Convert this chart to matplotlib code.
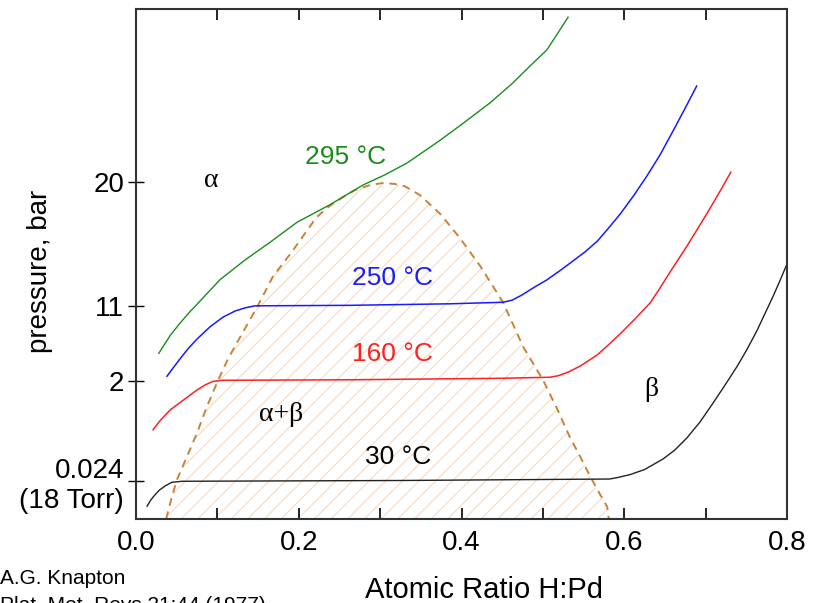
import matplotlib
matplotlib.use("Agg")
import matplotlib.pyplot as plt

plt.rcParams['font.family'] = ['Liberation Sans', 'DejaVu Sans']
plt.rcParams['hatch.linewidth'] = 0.8

# x: atomic ratio H:Pd, y: schematic pressure height (0..100, axis not to scale)
x295 = [0.028, 0.042, 0.054, 0.066, 0.079, 0.103, 0.134, 0.165, 0.198, 0.238,
        0.279, 0.306, 0.333, 0.374, 0.402, 0.435, 0.463, 0.484, 0.505, 0.531]
y295 = [32.5, 36.0, 38.4, 40.6, 42.8, 46.9, 50.8, 54.3, 58.2, 61.6,
        65.5, 67.5, 69.8, 74.3, 77.6, 81.6, 85.5, 88.8, 92.0, 98.4]

x250 = [0.038, 0.045, 0.054, 0.064, 0.075, 0.091, 0.107, 0.122, 0.134, 0.146,
        0.263, 0.386, 0.451, 0.462, 0.474, 0.490, 0.505, 0.521, 0.537, 0.552,
        0.567, 0.581, 0.595, 0.612, 0.628, 0.644, 0.660, 0.675, 0.689]
y250 = [28.0, 29.5, 31.4, 33.4, 35.3, 37.7, 39.6, 40.8, 41.4, 41.8,
        41.9, 42.2, 42.5, 42.9, 43.9, 45.5, 46.9, 48.7, 50.6, 52.4,
        54.5, 57.1, 59.8, 63.5, 67.3, 71.4, 76.1, 80.6, 84.9]

x160 = [0.021, 0.029, 0.042, 0.058, 0.075, 0.085, 0.095, 0.106, 0.263, 0.451,
        0.509, 0.519, 0.531, 0.546, 0.567, 0.583, 0.595, 0.613, 0.632, 0.644,
        0.653, 0.666, 0.677, 0.689, 0.702, 0.716, 0.731]
y160 = [17.5, 19.2, 21.4, 23.3, 25.3, 26.3, 27.0, 27.2, 27.3, 27.6,
        27.8, 28.1, 28.8, 30.0, 32.2, 34.5, 36.3, 39.2, 42.4, 45.3,
        47.6, 50.8, 53.5, 56.6, 60.0, 63.8, 68.0]

x30 = [0.0135, 0.018, 0.023, 0.029, 0.036, 0.044, 0.057, 0.324, 0.582, 0.592,
       0.607, 0.625, 0.648, 0.662, 0.677, 0.693, 0.709, 0.724, 0.739, 0.751,
       0.763, 0.773, 0.783, 0.791, 0.800]
y30 = [2.5, 3.7, 4.7, 5.7, 6.5, 7.2, 7.4, 7.55, 7.84, 8.14,
       8.7, 9.7, 11.8, 13.5, 15.9, 19.0, 22.7, 26.3, 30.0, 33.3,
       36.9, 40.3, 43.7, 46.6, 50.0]

# alpha+beta two-phase boundary
xdome = [0.037, 0.043, 0.050, 0.063, 0.075, 0.087, 0.100, 0.113, 0.128, 0.149,
         0.168, 0.193, 0.208, 0.222, 0.238, 0.254, 0.269, 0.288, 0.304, 0.318,
         0.331, 0.349, 0.374, 0.398, 0.423, 0.451, 0.476, 0.500, 0.517, 0.533,
         0.546, 0.558, 0.570, 0.579, 0.581]
ydome = [0.0, 3.7, 7.6, 12.4, 16.9, 22.0, 26.9, 31.4, 35.7, 41.6,
         47.5, 52.7, 56.1, 59.2, 61.4, 63.1, 64.5, 65.5, 65.9, 65.7,
         65.2, 63.5, 59.8, 55.1, 49.6, 42.5, 33.7, 27.3, 21.8, 16.1,
         12.2, 8.4, 4.9, 2.4, 0.0]

ytick_pos = [7.45, 27.1, 41.8, 66.1]
ytick_labels = ['0.024\n(18 Torr)', '2', '11', '20']

fig = plt.figure(figsize=(8.22, 6.03), dpi=100)
ax = fig.add_axes([0.1655, 0.1393, 0.7919, 0.8457])

ax.fill_between(xdome, ydome, 0, facecolor='none', edgecolor='#f5d9c4',
                hatch='//', linewidth=0)
ax.plot(xdome, ydome, color='#c8823a', lw=1.4, ls=(0, (4, 3)))

ax.plot(x295, y295, color='#1a8c1a', lw=1.0)
ax.plot(x250, y250, color='#1a1aff', lw=1.1)
ax.plot(x160, y160, color='#ff2020', lw=1.1)
ax.plot(x30, y30, color='#222222', lw=1.0)

ax.text(0.258, 71.0, '295 °C', color='#1a8c1a', fontsize=19, ha='center', va='center')
ax.text(0.315, 47.3, '250 °C', color='#1a1aff', fontsize=19, ha='center', va='center')
ax.text(0.315, 32.4, '160 °C', color='#ff2020', fontsize=19, ha='center', va='center')
ax.text(0.322, 12.2, '30 °C', color='black', fontsize=19, ha='center', va='center')

greek = ['Liberation Serif', 'DejaVu Serif']
ax.text(0.093, 66.3, 'α', fontsize=20, ha='center', va='center', family=greek)
ax.text(0.178, 20.4, 'α+β', fontsize=20, ha='center', va='center', family=greek)
ax.text(0.633, 25.3, 'β', fontsize=20, ha='center', va='center', family=greek)

ax.set_xlim(0, 0.8)
ax.set_ylim(0, 100)
ax.set_xticks([0.0, 0.2, 0.4, 0.6, 0.8])
ax.set_xticklabels(['0.0', '0.2', '0.4', '0.6', '0.8'])
ax.set_xticks([0.1, 0.3, 0.5, 0.7], minor=True)
ax.set_yticks(ytick_pos)
ax.set_yticklabels(ytick_labels)
for t in ax.get_yticklabels():
    t.set_multialignment('right')

ax.tick_params(axis='x', which='both', direction='in', top=True, length=8,
               width=1.2, labelsize=20, pad=8)
ax.tick_params(axis='y', direction='inout', length=11, width=1.0,
               labelsize=20, pad=3)
for s in ax.spines.values():
    s.set_linewidth(1.5)
    s.set_color('#333333')

fig.text(0.0487, 0.5506, 'pressure, bar', rotation=90, fontsize=20,
         ha='center', va='center')
fig.text(0.589, 0.008, 'Atomic Ratio H:Pd', fontsize=21, ha='center', va='baseline')
fig.text(0.0, 0.040, 'A.G. Knapton', fontsize=15, ha='left', va='center')
fig.text(0.0, 0.011, 'Plat. Met. Revs 21:44 (1977)', fontsize=15, ha='left', va='top')

fig.savefig('out.png', dpi=100)
